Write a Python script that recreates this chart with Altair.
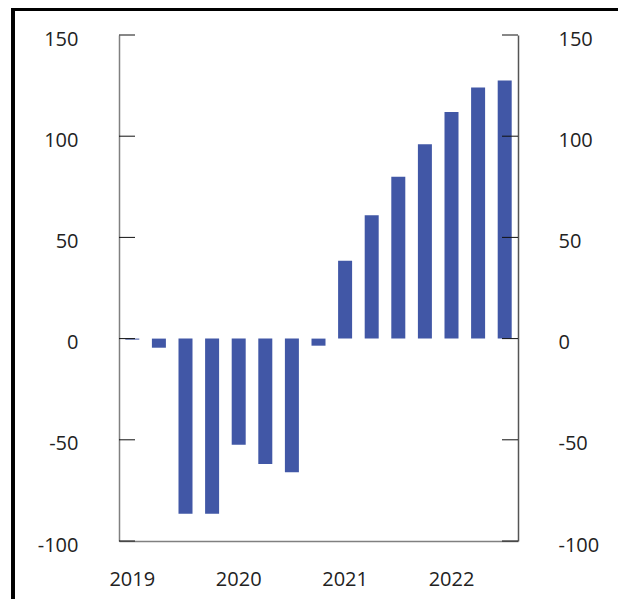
import altair as alt
import pandas as pd

quarters = ["2019Q1", "2019Q2", "2019Q3", "2019Q4",
            "2020Q1", "2020Q2", "2020Q3", "2020Q4",
            "2021Q1", "2021Q2", "2021Q3", "2021Q4",
            "2022Q1", "2022Q2", "2022Q3"]
values = [-0.5, -4.5, -86.5, -86.5, -52.5, -62, -66, -3.5,
          38.5, 61, 80, 96, 112, 124, 127.5]
y_ticks = [-100, -50, 0, 50, 100, 150]
x_label_quarters = ["2019Q1", "2020Q1", "2021Q1", "2022Q1"]

df = pd.DataFrame({"q": quarters, "v": values})
ticks_df = pd.DataFrame({"t": y_ticks})

FONT = "Open Sans"
W, H = 399, 506
ydom = alt.Scale(domain=[-100, 150], nice=False, zero=False)

bars = alt.Chart(df).mark_bar(color="#4157a6", size=14).encode(
    x=alt.X("q:N", sort=quarters,
            scale=alt.Scale(paddingInner=0.47, paddingOuter=0.235),
            axis=alt.Axis(values=x_label_quarters,
                          labelExpr="substring(datum.value, 0, 4)",
                          title=None, ticks=False, domain=True, grid=False,
                          domainColor="#808080", domainWidth=1.5,
                          labelAngle=0, labelFont=FONT, labelFontSize=20,
                          labelColor="#222222", labelPadding=28)),
    y=alt.Y("v:Q", scale=ydom,
            axis=alt.Axis(values=y_ticks, title=None, ticks=False,
                          grid=False, domainColor="#808080", domainWidth=1.5,
                          labelExpr="datum.value + ''",
                          labelFont=FONT, labelFontSize=20, labelColor="#222222",
                          labelPadding=41, labelOffset=4, orient="left")),
)

right_axis = alt.Chart(ticks_df).mark_rule(opacity=0).encode(
    y=alt.Y("t:Q", scale=ydom,
            axis=alt.Axis(values=y_ticks, title=None, ticks=False,
                          grid=False, domainColor="#555555", domainWidth=1.5,
                          labelExpr="datum.value + ''",
                          labelFont=FONT, labelFontSize=20, labelColor="#222222",
                          labelPadding=40, labelOffset=4, orient="right")),
    x=alt.value(0), x2=alt.value(1),
)

left_ticks = alt.Chart(ticks_df).mark_rule(color="#111111", strokeWidth=1).encode(
    y=alt.Y("t:Q", scale=ydom, axis=None),
    x=alt.value(0), x2=alt.value(16),
)
right_ticks = alt.Chart(ticks_df).mark_rule(color="#111111", strokeWidth=1).encode(
    y=alt.Y("t:Q", scale=ydom, axis=None),
    x=alt.value(W - 16), x2=alt.value(W),
)

frame_top = alt.Chart(ticks_df).mark_rule(color="#000000", strokeWidth=3).encode(
    x=alt.value(-106), x2=alt.value(W + 120), y=alt.value(-25.5),
)
frame_left = alt.Chart(ticks_df).mark_rule(color="#000000", strokeWidth=3).encode(
    x=alt.value(-106), y=alt.value(-27), y2=alt.value(H + 70),
)

chart = alt.layer(bars, right_axis, left_ticks, right_ticks, frame_top, frame_left).resolve_axis(
    y="independent"
).properties(
    width=W, height=H,
    background="white",
    autosize=alt.AutoSizeParams(type="none"),
    padding={"left": 111, "top": 27, "right": 100, "bottom": 58},
).configure_view(strokeWidth=0, stroke="transparent")

chart.save("out.html", embed_options={"renderer": "svg", "actions": False})
